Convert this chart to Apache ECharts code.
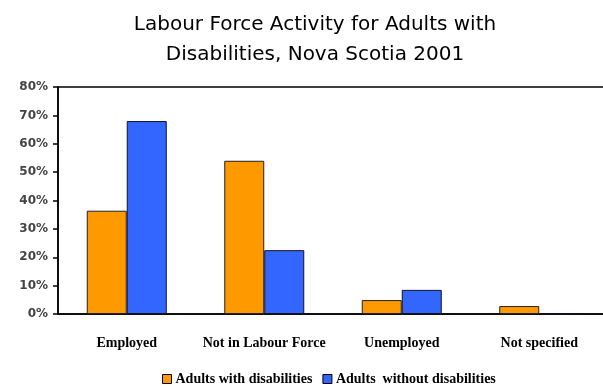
<!DOCTYPE html>
<html>
<head>
<meta charset="utf-8">
<script src="https://cdn.jsdelivr.net/npm/echarts@6/dist/echarts.min.js"></script>
<style>
  html, body { margin: 0; padding: 0; background: #fff; }
  #chart { width: 603px; height: 388px; }
</style>
</head>
<body>
<div id="chart"></div>
<script>
// Labour force activity, Nova Scotia 2001 (percent of adults)
const categories = ['Employed', 'Not in Labour Force', 'Unemployed', 'Not specified'];
const withDisabilities = [36.4, 54.0, 4.9, 2.8];
const withoutDisabilities = [68.0, 22.5, 8.5, 0];
const seriesNames = ['Adults with disabilities', 'Adults  without disabilities'];
const yTicks = [0, 10, 20, 30, 40, 50, 60, 70, 80];

const chart = echarts.init(document.getElementById('chart'), null, { renderer: 'canvas' });

chart.setOption({
  animation: false,
  backgroundColor: '#fff',
  title: {
    text: 'Labour Force Activity for Adults with\nDisabilities, Nova Scotia 2001',
    left: 310,
    textAlign: 'center',
    top: 5,
    textStyle: {
      fontFamily: 'DejaVu Sans',
      fontSize: 20,
      fontWeight: 'normal',
      color: '#000',
      lineHeight: 30
    }
  },
  legend: {
    left: 162,
    top: 371,
    padding: 0,
    itemWidth: 9,
    itemHeight: 9,
    itemGap: 10,
    icon: 'rect',
    itemStyle: { borderColor: '#000', borderWidth: 1 },
    textStyle: { fontFamily: 'Liberation Serif', fontWeight: 'bold', fontSize: 14, lineHeight: 16, color: '#000', padding: [0, 0, 0, -1] },
    data: seriesNames
  },
  grid: {
    left: 58,
    width: 550,
    top: 87,
    bottom: 74,
    outerBoundsMode: 'none',
    containLabel: false,
    show: true,
    borderColor: '#000',
    borderWidth: 1.5,
    backgroundColor: 'transparent'
  },
  xAxis: {
    type: 'category',
    data: categories,
    axisLine: { lineStyle: { color: '#000', width: 1.5 } },
    axisTick: { show: false },
    axisLabel: {
      interval: 0,
      margin: 22,
      fontFamily: 'Liberation Serif',
      fontWeight: 'bold',
      fontSize: 14,
      color: '#000'
    }
  },
  yAxis: {
    type: 'value',
    min: yTicks[0],
    max: yTicks[yTicks.length - 1],
    interval: 10,
    axisLine: { show: true, lineStyle: { color: '#000', width: 1.5 } },
    axisTick: { show: true, length: 5, lineStyle: { color: '#000', width: 1.5 } },
    splitLine: { show: false },
    axisLabel: {
      formatter: '{value}%',
      margin: 10,
      fontFamily: 'DejaVu Sans',
      fontWeight: 'bold',
      fontSize: 12,
      color: '#444'
    }
  },
  series: [
    {
      name: seriesNames[0],
      type: 'bar',
      data: withDisabilities,
      barWidth: 40,
      barGap: '0%',
      itemStyle: { color: '#FF9900', borderColor: '#222', borderWidth: 1 }
    },
    {
      name: seriesNames[1],
      type: 'bar',
      data: withoutDisabilities,
      barWidth: 40,
      barGap: '0%',
      itemStyle: { color: '#3366FF', borderColor: '#112', borderWidth: 1 }
    }
  ]
});
</script>
</body>
</html>
